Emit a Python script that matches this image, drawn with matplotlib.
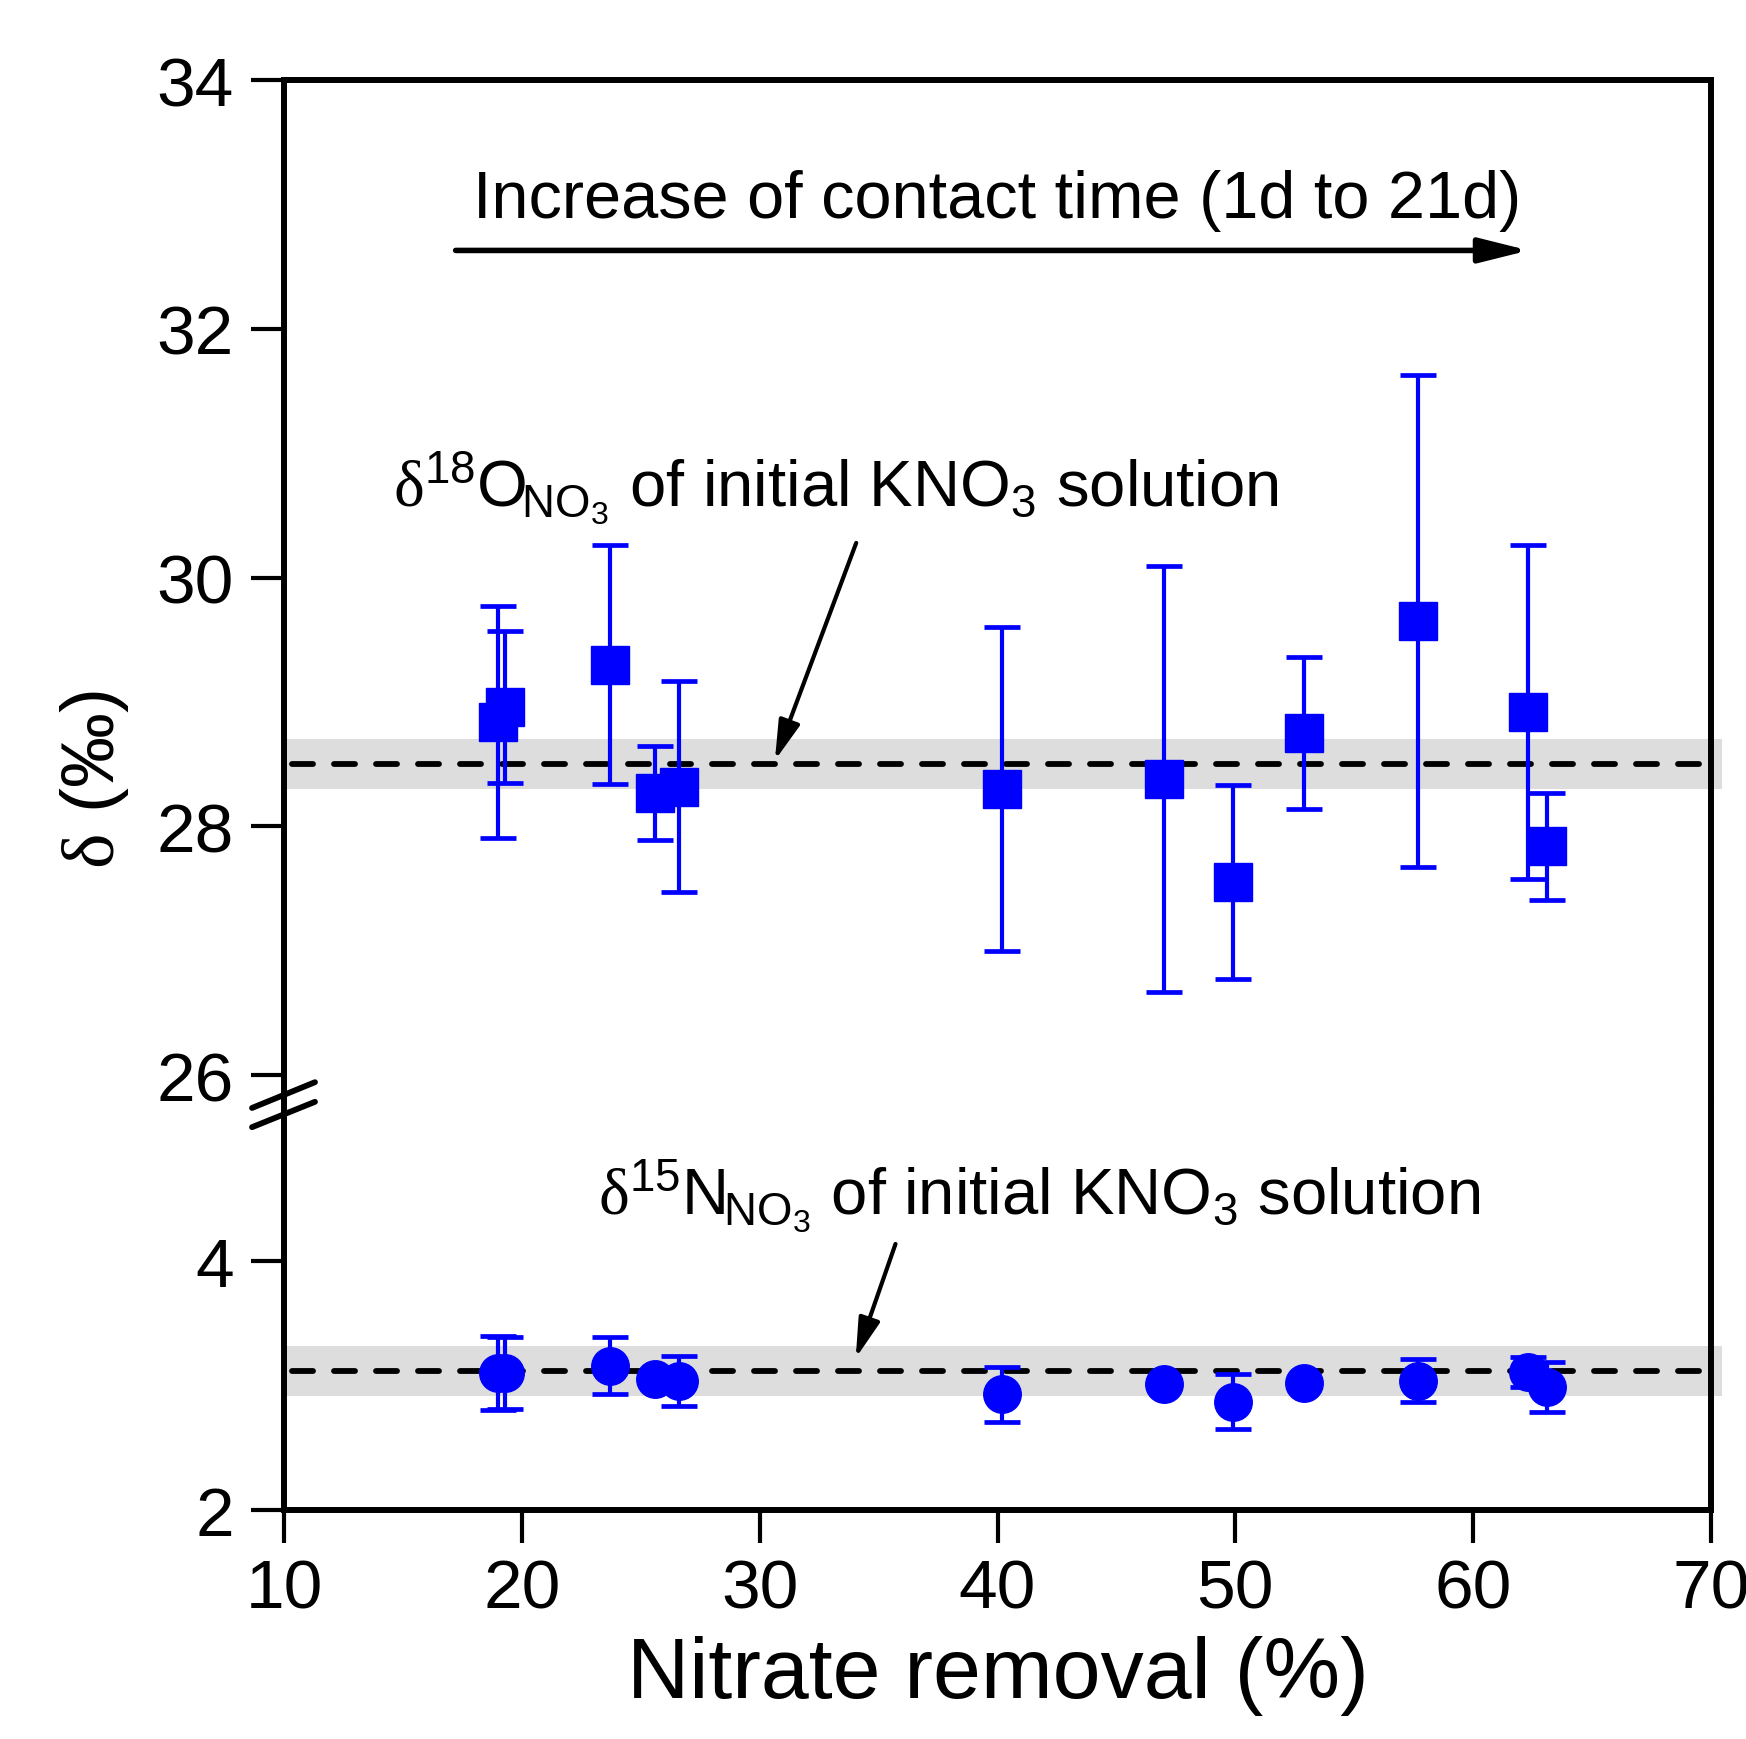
import numpy as np
import matplotlib
matplotlib.use("Agg")
import matplotlib.pyplot as plt
from matplotlib.lines import Line2D

plt.rcParams['font.family'] = ['Liberation Sans', 'DejaVu Sans']
plt.rcParams['mathtext.fontset'] = 'custom'
plt.rcParams['mathtext.rm'] = 'Liberation Sans'
plt.rcParams['mathtext.it'] = 'Liberation Sans:italic'
plt.rcParams['mathtext.bf'] = 'Liberation Sans:bold'
plt.rcParams['mathtext.sf'] = 'Liberation Serif'  # serif delta as in the figure

# nitrate removal (%) for each sample
removal = [19.0, 19.3, 23.7, 25.6, 26.6, 40.2, 47.0, 49.9, 52.9, 57.7, 62.3, 63.1]
# d18O of nitrate (permil) and error
d18O = [28.84, 28.96, 29.30, 28.27, 28.32, 28.30, 28.38, 27.55, 28.75, 29.65, 28.92, 27.84]
d18O_err = [0.93, 0.61, 0.96, 0.38, 0.85, 1.30, 1.71, 0.78, 0.61, 1.98, 1.34, 0.43]
# d15N of nitrate (permil) and error
d15N = [3.10, 3.10, 3.16, 3.05, 3.04, 2.93, 3.01, 2.87, 3.02, 3.04, 3.11, 2.99]
d15N_err = [0.30, 0.29, 0.23, 0.0, 0.20, 0.22, 0.0, 0.22, 0.0, 0.17, 0.12, 0.20]

# initial KNO3 solution values (line) and their uncertainty band
d18O_init = 28.5
d15N_init = 3.12
band_halfwidth = 0.2

xticks = [10, 20, 30, 40, 50, 60, 70]
yticks_top = [26, 28, 30, 32, 34]
yticks_bot = [2, 4]

blue = '#0000ff'
band_color = '#dddddd'

fig = plt.figure(figsize=(17.46, 17.40), dpi=100)
left, right = 284 / 1746, 1711 / 1746
bottom, top = 1 - 1511 / 1740, 1 - 81 / 1740
junction = 1 - 1102 / 1740
ax_b = fig.add_axes([left, bottom, right - left, junction - bottom])
ax_t = fig.add_axes([left, junction, right - left, top - junction], sharex=ax_b)

ax_t.set_ylim(25.793, 34)
ax_b.set_ylim(2, 5.288)
ax_b.set_xlim(10, 70)

for ax in (ax_t, ax_b):
    for s in ax.spines.values():
        s.set_linewidth(4.3)
    ax.tick_params(axis='both', direction='out', length=24, width=3.0,
                   labelsize=50, pad=12)
ax_t.spines['bottom'].set_visible(False)
ax_b.spines['top'].set_visible(False)
ax_t.tick_params(axis='x', bottom=False, labelbottom=False)
ax_t.set_yticks(yticks_top)
ax_b.set_yticks(yticks_bot)
ax_b.set_xticks(xticks)
ax_b.tick_params(axis='x', pad=10)

# grey bands and dashed reference lines
band_x = [10, 70.45]
ax_t.fill_between(band_x, d18O_init - band_halfwidth, d18O_init + band_halfwidth,
                  color=band_color, lw=0, zorder=1, clip_on=False)
ax_b.fill_between(band_x, d15N_init - band_halfwidth, d15N_init + band_halfwidth,
                  color=band_color, lw=0, zorder=1, clip_on=False)
for ax, yv in ((ax_t, d18O_init), (ax_b, d15N_init)):
    ax.plot([10.35, 70.3], [yv, yv], color='black', lw=4.2,
            dashes=(3.6, 3.6), dash_capstyle='round', zorder=2, clip_on=False)

ax_t.errorbar(removal, d18O, yerr=d18O_err, fmt='s', color=blue, ms=27,
              elinewidth=3.0, capsize=13, capthick=3.4, zorder=3)
ax_b.errorbar(removal, d15N, yerr=d15N_err, fmt='o', color=blue, ms=27,
              elinewidth=3.0, capsize=13, capthick=3.4, zorder=3)

# contact time arrow
ax_t.annotate('', xy=(62.45, 32.63), xytext=(17.1, 32.63),
              arrowprops=dict(arrowstyle='-|>,head_length=1.2,head_width=0.3',
                              mutation_scale=25, lw=4.0, color='black',
                              capstyle='round'))
ax_t.text(40.0, 32.9, 'Increase of contact time (1d to 21d)', fontsize=48,
          ha='center', va='baseline')

ax_t.text(14.6, 30.58,
          r'$\mathsf{\delta}^{18}\mathrm{O}_{\!\mathrm{NO}_3}$ of initial KNO$_3$ solution',
          fontsize=47, ha='left', va='baseline')
ax_t.annotate('', xy=(30.6, 28.51), xytext=(34.1, 30.30),
              arrowprops=dict(arrowstyle='-|>,head_length=1.1,head_width=0.3',
                              mutation_scale=22, lw=3.0, color='black'))

ax_b.text(23.2, 4.38,
          r'$\mathsf{\delta}^{15}\mathrm{N}_{\!\mathrm{NO}_3}$ of initial KNO$_3$ solution',
          fontsize=47, ha='left', va='baseline')
ax_b.annotate('', xy=(34.0, 3.2), xytext=(35.75, 4.16),
              arrowprops=dict(arrowstyle='-|>,head_length=1.1,head_width=0.3',
                              mutation_scale=22, lw=3.0, color='black'))

# axis break marks, drawn on the figure so neither axes background hides them
for y0, y1 in ((0.983, 1.046), (0.936, 0.998)):
    fig.add_artist(Line2D([-0.0224, 0.0217], [y0, y1], transform=ax_b.transAxes,
                          color='black', lw=4.2, solid_capstyle='round', zorder=5))

ax_b.set_xlabel('Nitrate removal (%)', fontsize=62, labelpad=10)
fig.text(0.054, 0.552, r'$\mathsf{\delta}$ (‰)', rotation=90, fontsize=54,
         ha='center', va='center')

fig.savefig('out.png', dpi=100)
